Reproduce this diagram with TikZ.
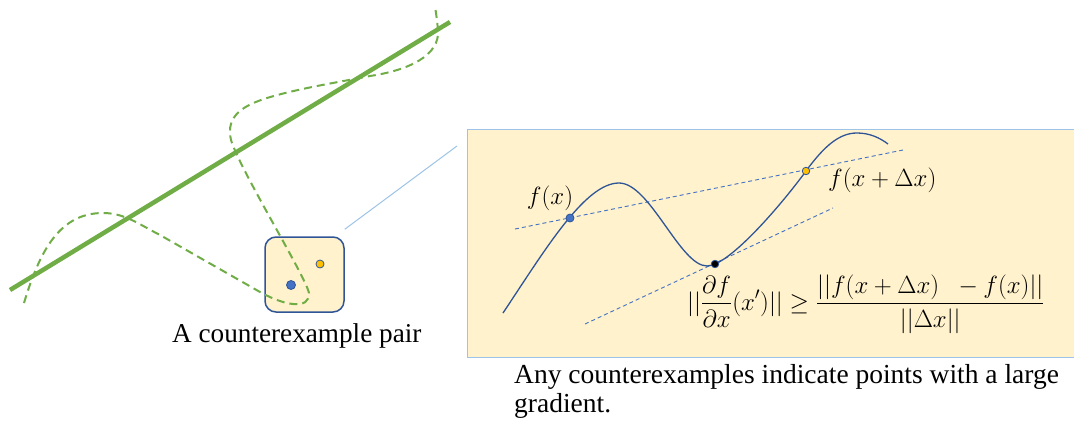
\documentclass[tikz,border=0pt]{standalone}
\usepackage{fontspec}
\setmainfont{Liberation Serif}
\usepackage{amsmath}
\definecolor{lgreen}{HTML}{70AD47}
\definecolor{dblue}{HTML}{2F5597}
\definecolor{mblue}{HTML}{4472C4}
\definecolor{pale}{HTML}{FFF2CC}
\definecolor{lblue}{HTML}{9DC3E6}
\definecolor{gold}{HTML}{FFC000}
\tikzset{
  greenline/.style={draw=lgreen, line width=4.5pt},
  greendash/.style={draw=lgreen, line width=2pt, dash pattern=on 8pt off 5pt},
  panel/.style={fill=pale, draw=lblue, line width=1.3pt},
  smallbox/.style={fill=pale, draw=dblue, line width=1.5pt, rounded corners=11pt},
  fcurve/.style={draw=dblue, line width=1.3pt},
  tline/.style={draw=mblue, line width=0.9pt, dash pattern=on 4pt off 3pt},
  dotb/.style={circle, fill=mblue, draw=dblue, line width=0.8pt, inner sep=0pt, minimum size=8pt},
  doty/.style={circle, fill=gold, draw=dblue, line width=0.8pt, inner sep=0pt, minimum size=7.5pt},
  dotk/.style={circle, fill=black, draw=dblue, line width=0.8pt, inner sep=0pt, minimum size=7.5pt},
  caption/.style={font=\fontsize{27.2}{29}\selectfont, inner sep=0pt},
  mathlbl/.style={font=\fontsize{23.5}{27}\selectfont, inner sep=0pt},
}
\begin{document}
\begin{tikzpicture}[x=1pt,y=-1pt]
\useasboundingbox (0,0) rectangle (1074,439);
% left scene
\node[smallbox, minimum width=79pt, minimum height=75pt, inner sep=0pt] (sb) at (304.5,274.5) {};
\draw[greendash] (24,303) .. controls (40,250) and (60,213) .. (103,213)
  .. controls (125,213) and (140,225) .. (160,235) -- (260,292)
  .. controls (285,306) and (310,310) .. (309,293)
  .. controls (305,275) and (240,170) .. (231,140)
  .. controls (225,115) and (245,105) .. (267,98)
  .. controls (300,88) and (340,82) .. (370,76)
  .. controls (410,70) and (440,55) .. (438,30)
  .. controls (437,20) and (436,12) .. (435,7);
\coordinate (g1) at (10,290);
\coordinate (g2) at (450,22);
\draw[greenline] (g1) -- (g2);
\node[dotb, minimum size=9pt] (pb) at (291,285) {};
\node[doty, minimum size=8pt] (py) at (320,264) {};
\node[caption, anchor=base west] (cap1) at (172,342) {A counterexample pair};
% connector
\coordinate (c2) at (457,146);
\draw[lblue, line width=1pt] (sb.north east) ++(0,-7) coordinate (c1) -- (c2);
% right panel
\node[panel, minimum width=607pt, minimum height=228pt, inner sep=0pt, anchor=north west] (pn) at (467,129) {};
\coordinate (a1) at (515,229);
\coordinate (a2) at (903,150);
\coordinate (b1) at (585,324);
\coordinate (b2) at (833,208);
\draw[tline] (a1) -- (a2);
\draw[tline] (b1) -- (b2);
\draw[fcurve] (503,313) .. controls (545,250) and (585,183) .. (619,183)
  .. controls (650,183) and (680,266) .. (707,266)
  .. controls (730,266) and (785,200) .. (806,171)
  .. controls (825,145) and (840,133) .. (857,133)
  .. controls (870,133) and (880,138) .. (888,144);
\node[dotb] (fx) at (570,218) {};
\node[doty] (fdx) at (806,171) {};
\node[dotk] (fp) at (715,264) {};
\node[mathlbl] (lfx) at (550,198) {$f(x)$};
\node[mathlbl, anchor=west] (lfdx) at (828,180) {$f(x+\Delta x)$};
\node[mathlbl, anchor=west, font=\fontsize{24.2}{28}\selectfont] (form) at (687,304) {$\displaystyle ||\frac{\partial f}{\partial x}(x')||\geq\frac{||f(x+\Delta x)\;\;-f(x)||}{||\Delta x||}$};
\node[caption, anchor=north west, align=left, font=\fontsize{27.5}{29}\selectfont] (cap2) at (514,364) {Any counterexamples indicate points with a large\\gradient.};
\end{tikzpicture}
\end{document}
